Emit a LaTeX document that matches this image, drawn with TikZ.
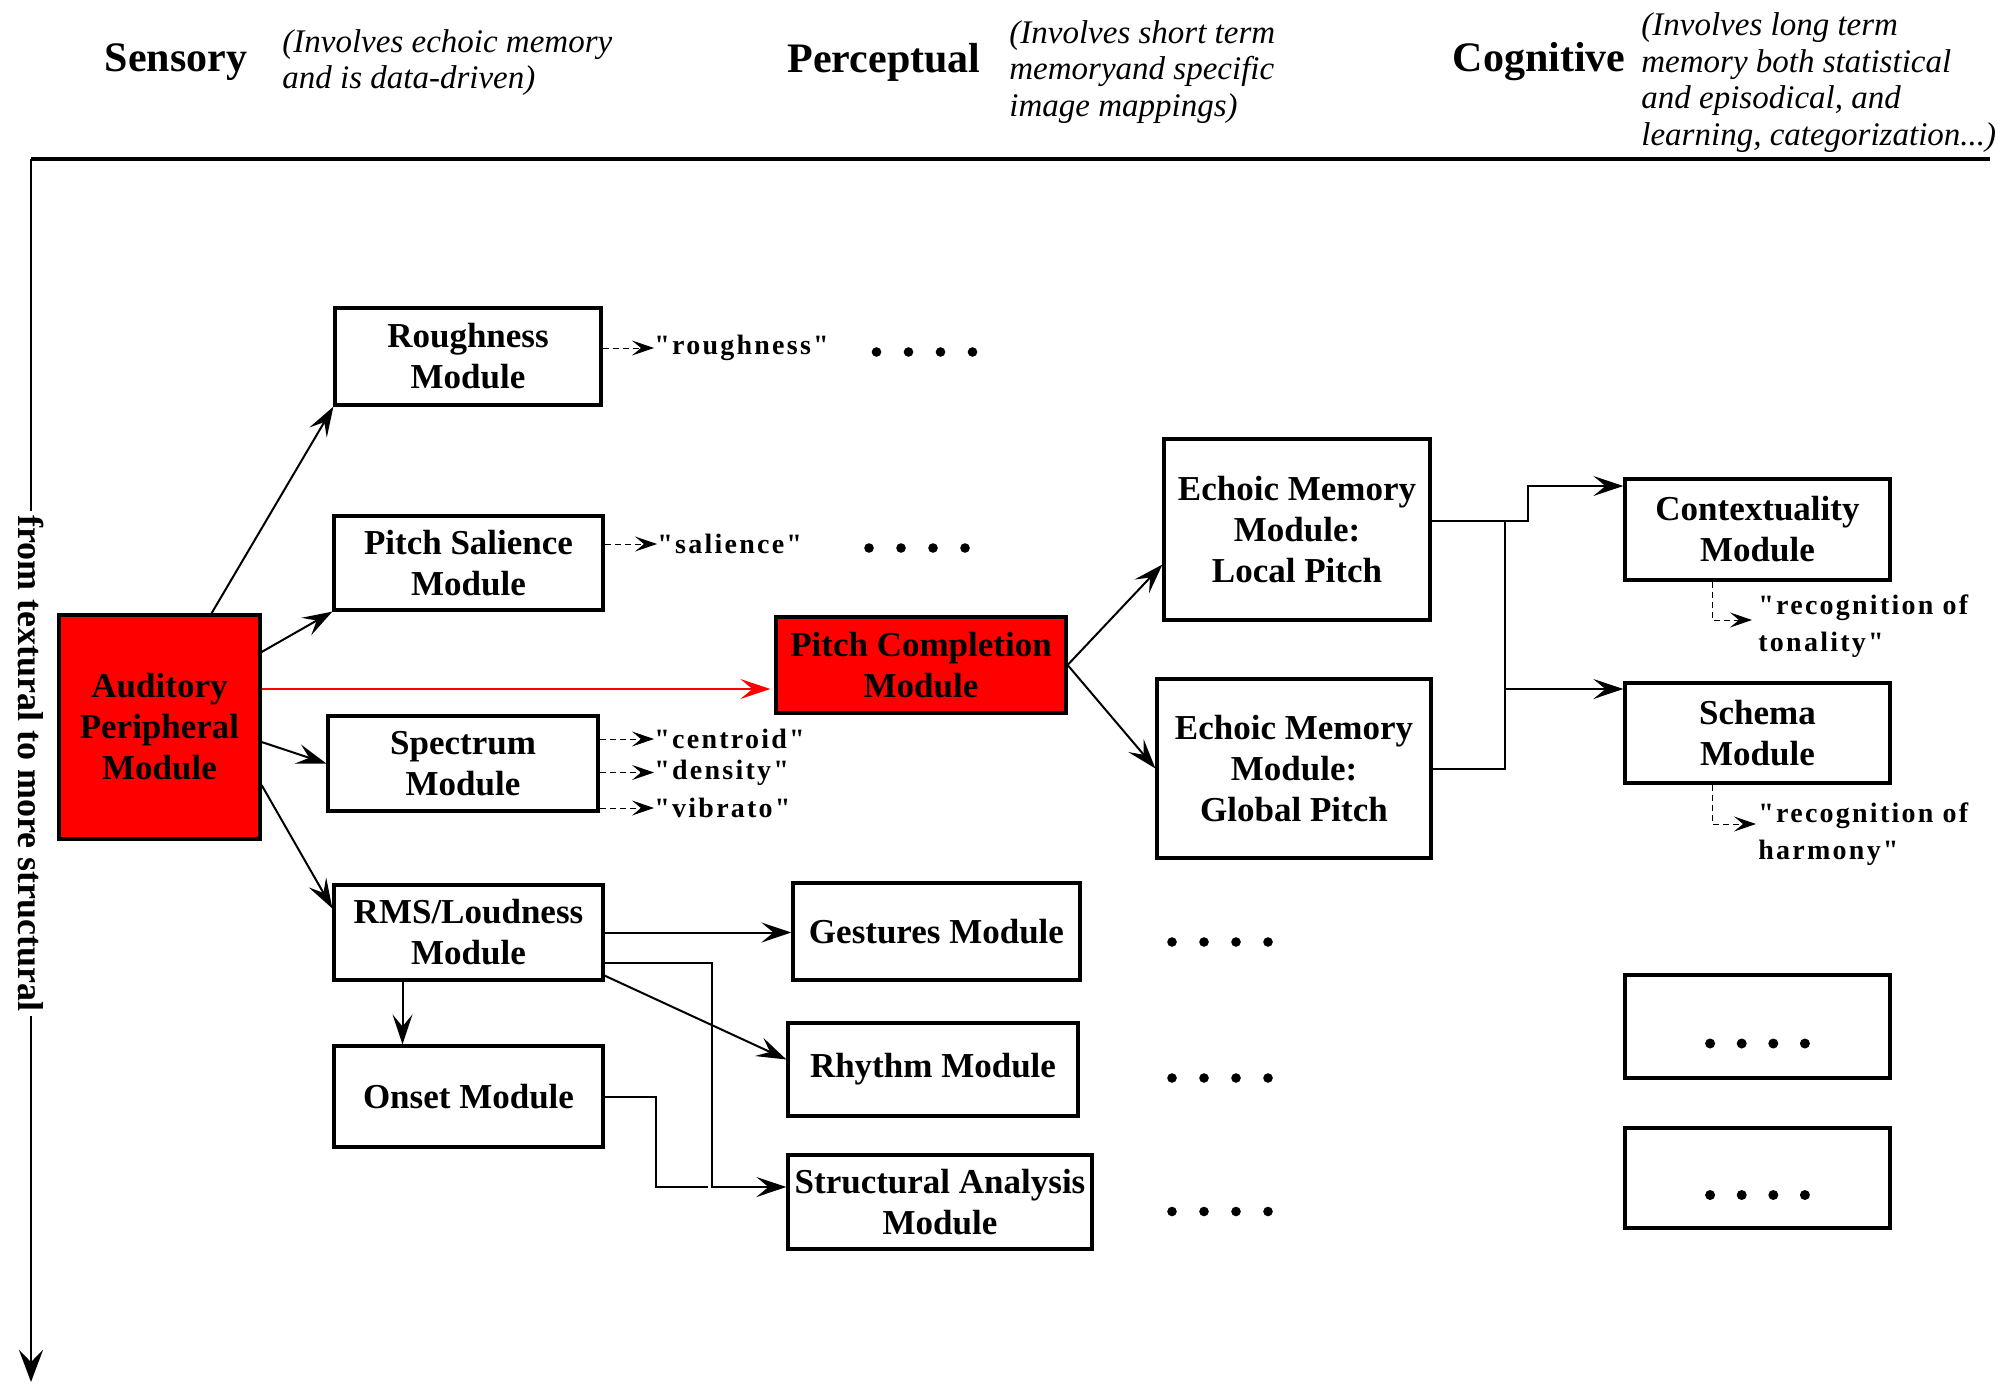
\documentclass[tikz,border=0pt]{standalone}
\usepackage{fontspec}
\setmainfont{Liberation Serif}
\newfontfamily\spacedfont[LetterSpace=8]{Liberation Serif}
\usepackage{tikz}
\usetikzlibrary{arrows.meta, calc}

\begin{document}
\begin{tikzpicture}[x=0.5pt, y=-0.5pt,
    modbox/.style={draw, line width=1.6pt, align=center, inner sep=0pt, font=\fontsize{17.5}{20.5}\selectfont\bfseries},
    redbox/.style={modbox, fill=red},
    conn/.style={-{Stealth[length=15pt, width=10pt, inset=6pt]}, line width=1pt},
    hint/.style={-{Stealth[length=11pt, width=7.5pt, inset=4.5pt]}, densely dashed, line width=0.5pt},
    hintlabel/.style={anchor=west, inner sep=0pt, align=left, font=\fontsize{14}{18.5}\spacedfont\bfseries},
    head/.style={font=\fontsize{21}{25}\selectfont\bfseries},
    note/.style={anchor=west, inner sep=0pt, align=left, font=\fontsize{16.5}{18.25}\selectfont\itshape}]
    \useasboundingbox (0,0) rectangle (2012,1386);

    % levels
    \node[head] (sens) at (176,62) {Sensory};
    \node[note] (sensnote) at (282,62.5) {(Involves echoic memory\\and is data-driven)};
    \node[head] (perc) at (884,62) {Perceptual};
    \node[note] (percnote) at (1009,72) {(Involves short term\\memoryand specific\\image mappings)};
    \node[head] (cogn) at (1539,62) {Cognitive};
    \node[note] (cognnote) at (1641,82.5) {(Involves long term\\memory both statistical\\and episodical, and\\learning, categorization...)};

    % axes
    \coordinate (corner) at (31,159);
    \coordinate (topend) at (1990,159);
    \coordinate (axisend) at (31,1382);
    \draw[line width=2pt] (corner) -- (topend);
    \node[rotate=-90, inner sep=2pt, font=\fontsize{18}{22}\selectfont\bfseries] (axislabel) at (31,763.5) {from textural to more structural};
    \draw[line width=1.3pt] (corner) -- (axislabel.west);
    \draw[line width=1.3pt, -{Stealth[length=16pt, width=12pt, inset=6pt]}] (axislabel.east) -- (axisend);

    % modules
    \node[redbox, minimum width=100.5pt, minimum height=112pt] (apm) at (159.5,727) {Auditory\\Peripheral\\Module};
    \node[modbox, minimum width=133pt, minimum height=48.5pt] (rough) at (468,356.5) {Roughness\\Module};
    \node[modbox, minimum width=134.5pt, minimum height=47pt] (sal) at (468.5,563) {Pitch Salience\\Module};
    \node[modbox, minimum width=135pt, minimum height=47.5pt] (spec) at (463,763.5) {Spectrum\\Module};
    \node[modbox, minimum width=134.5pt, minimum height=47.5pt] (rms) at (468.5,932.5) {RMS/Loudness\\Module};
    \node[modbox, minimum width=134.5pt, minimum height=50.5pt] (onset) at (468.5,1096.5) {Onset Module};
    \node[redbox, minimum width=145pt, minimum height=48pt] (pcm) at (921,665) {Pitch Completion\\Module};
    \node[modbox, minimum width=143.5pt, minimum height=48.5pt] (gest) at (936.5,931.5) {Gestures Module};
    \node[modbox, minimum width=145pt, minimum height=46.5pt] (rhythm) at (933,1069.5) {Rhythm Module};
    \node[modbox, minimum width=152pt, minimum height=47pt] (struct) at (940,1202) {Structural Analysis\\Module};
    \node[modbox, minimum width=133pt, minimum height=90.5pt] (local) at (1297,529.5) {Echoic Memory\\Module:\\Local Pitch};
    \node[modbox, minimum width=137pt, minimum height=89.5pt] (global) at (1294,768.5) {Echoic Memory\\Module:\\Global Pitch};
    \node[modbox, minimum width=132.5pt, minimum height=50.5pt] (ctx) at (1757.5,529.5) {Contextuality\\Module};
    \node[modbox, minimum width=132.5pt, minimum height=50pt] (schema) at (1757.5,733) {Schema\\Module};
    \node[modbox, minimum width=132.5pt, minimum height=51.5pt] (more1) at (1757.5,1026.5) {};
    \node[modbox, minimum width=132.5pt, minimum height=50pt] (more2) at (1757.5,1178) {};

    % dots
    \foreach \b in {more1, more2}
        \foreach \i in {0,...,3}
            \fill ([xshift={(\i-1.5)*15.8pt}, yshift=-8.5pt]\b.center) circle (2.5pt);
    \foreach \x/\y in {924.5/352, 917/548, 1220/942, 1220/1078, 1220/1211.5}
        \foreach \i in {0,...,3}
            \fill ([xshift={(\i-1.5)*16pt}]\x,\y) circle (2.4pt);

    % descriptors
    \node[hintlabel] (lrough) at (654,348) {"roughness"};
    \node[hintlabel] (lsal) at (657,544) {"salience"};
    \node[hintlabel] (lcent) at (654,739) {"centroid"};
    \node[hintlabel] (ldens) at (654,772.5) {"density"};
    \node[hintlabel] (lvib) at (654,808) {"vibrato"};
    \node[hintlabel] (ltonal) at (1758,626) {"recognition of\\tonality"};
    \node[hintlabel] (lharm) at (1758,834) {"recognition of\\harmony"};
    \draw[hint] (rough.east |- lrough.west) -- (lrough.west);
    \draw[hint] (sal.east |- lsal.west) -- (lsal.west);
    \foreach \l in {lcent, ldens, lvib}
        \draw[hint] (spec.east |- \l.west) -- (\l.west);
    \draw[hint, shorten >=3pt] ([xshift=-22.75pt]ctx.south) |- ([yshift=3pt]ltonal.west);
    \draw[hint, shorten >=1pt] ([xshift=-22.75pt]schema.south) |- ([yshift=5pt]lharm.west);

    % sensory connections
    \coordinate (redstart) at ([yshift=19pt]apm.east);
    \draw[conn] ([xshift=26pt]apm.north) -- (rough.south west);
    \draw[conn] ([yshift=37.5pt]apm.east) -- (sal.south west);
    \draw[conn, red, line width=0.8pt, shorten >=2pt] (redstart) -- (redstart -| pcm.west);
    \draw[conn] ([yshift=-7.5pt]apm.east) -- (spec.west);
    \draw[conn] ([yshift=-29pt]apm.east) -- ([yshift=12pt]rms.west);

    % perceptual connections
    \draw[conn] (pcm.east) -- ([yshift=-17.5pt]local.west);
    \draw[conn] (pcm.east) -- (global.west);
    \coordinate (lstart) at ([yshift=4.25pt]local.east);
    \coordinate (bustop) at ([xshift=36.5pt]lstart);
    \coordinate (ctxin) at ([yshift=21.75pt]ctx.west);
    \coordinate (schin) at ([yshift=22pt]schema.west);
    \draw[conn] (lstart) -- ++(48pt,0) |- (ctxin);
    \draw[line width=1pt] (global.east) -| (bustop);
    \draw[conn] (schin -| bustop) -- (schin);

    % loudness connections
    \coordinate (rmsout) at ([yshift=-15pt]rms.east);
    \coordinate (structin) at ([yshift=7.5pt]struct.west);
    \draw[conn] (rms.east) -- (rms.east -| gest.west);
    \draw[conn] (rmsout) -- ++(53.5pt,0) |- (structin);
    \draw[conn] ([yshift=3pt]rms.south east) -- ([yshift=5pt]rhythm.west);
    \draw[conn] ([xshift=-33pt]rms.south) -- ([xshift=-33pt]onset.north);
    \draw[line width=1pt] (onset.east) -- ++(25.5pt,0) |- ([xshift=-39pt]structin);
\end{tikzpicture}
\end{document}
